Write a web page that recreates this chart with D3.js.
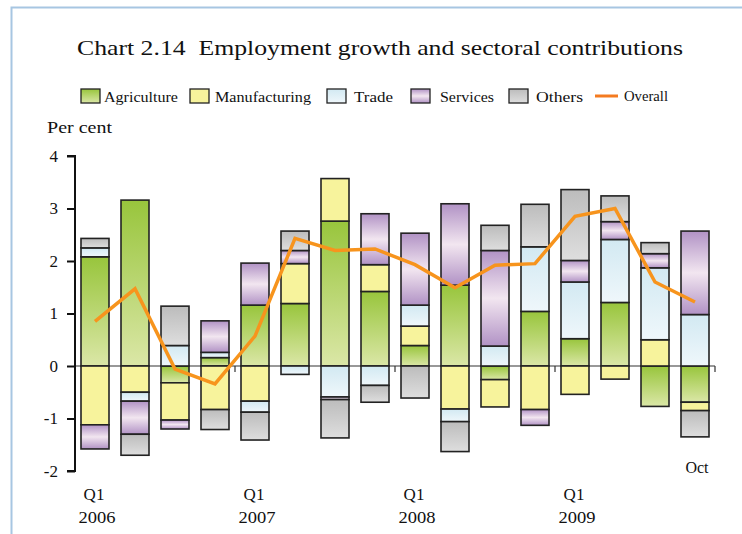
<!DOCTYPE html>
<html>
<head>
<meta charset="utf-8">
<script src="https://cdn.jsdelivr.net/npm/d3@7"></script>
<style>
  body { margin: 0; background: #fff; }
  svg text { font-family: "Liberation Serif", "DejaVu Serif", serif; fill: #111; white-space: pre; }
</style>
</head>
<body>
<div id="chart"></div>
<script>
// data (per cent, contribution to employment growth)
const quarters = ["2006Q1", "2006Q2", "2006Q3", "2006Q4", "2007Q1", "2007Q2", "2007Q3", "2007Q4",
  "2008Q1", "2008Q2", "2008Q3", "2008Q4", "2009Q1", "2009Q2", "2009Q3", "2009Q4"];
const agriculture = [2.08, 3.16, -0.32, 0.16, 1.16, 1.19, 2.76, 1.42, 0.39, 1.54, -0.26, 1.04, 0.52, 1.21, -0.77, -0.69];
const manufacturing = [-1.12, -0.50, -0.71, -0.83, -0.67, 0.76, 0.81, 0.51, 0.37, -0.82, -0.52, -0.83, -0.54, -0.25, 0.50, -0.16];
const trade = [0.17, -0.17, 0.39, 0.10, -0.21, -0.16, -0.59, -0.37, 0.40, -0.24, 0.38, 1.23, 1.08, 1.20, 1.37, 0.98];
const services = [-0.46, -0.63, -0.17, 0.60, 0.80, 0.25, -0.05, 0.97, 1.37, 1.55, 1.82, -0.30, 0.41, 0.34, 0.27, 1.59];
const others = [0.18, -0.40, 0.75, -0.38, -0.53, 0.37, -0.73, -0.32, -0.61, -0.57, 0.48, 0.81, 1.35, 0.49, 0.21, -0.50];
const overall = [0.85, 1.47, -0.06, -0.34, 0.57, 2.43, 2.20, 2.23, 1.93, 1.49, 1.92, 1.95, 2.85, 3.00, 1.60, 1.22];
const yTicks = [-2, -1, 0, 1, 2, 3, 4];
const xLabels = [
  { q: "2006Q1", top: "Q1", bottom: "2006" },
  { q: "2007Q1", top: "Q1", bottom: "2007" },
  { q: "2008Q1", top: "Q1", bottom: "2008" },
  { q: "2009Q1", top: "Q1", bottom: "2009" }
];

const seriesKeys = ["Agriculture", "Manufacturing", "Trade", "Services", "Others"];
const seriesValues = [agriculture, manufacturing, trade, services, others];

const width = 742, height = 534;
const svg = d3.select("#chart").append("svg").attr("width", width).attr("height", height);

// gradients (one per sector, stretched on each segment)
const defs = svg.append("defs");
const grads = {
  Agriculture: [["0%", "#98c53c"], ["100%", "#dbe7a7"]],
  Manufacturing: [["0%", "#f7f39c"], ["100%", "#f7f39c"]],
  Trade: [["0%", "#d2e9f2"], ["100%", "#eff7fb"]],
  Services: [["0%", "#b192c5"], ["50%", "#f2e6f0"], ["100%", "#b192c5"]],
  Others: [["0%", "#bcbcbc"], ["100%", "#dedede"]]
};
seriesKeys.forEach((k) => {
  const g = defs.append("linearGradient").attr("id", "g-" + k)
    .attr("x1", 0).attr("y1", 0).attr("x2", 0).attr("y2", 1);
  grads[k].forEach((s) => g.append("stop").attr("offset", s[0]).attr("stop-color", s[1]));
});

// frame lines of the page
svg.append("path").attr("d", "M11.5,534 L11.5,7.5 L742,7.5")
  .attr("fill", "none").attr("stroke", "#a7c6e2").attr("stroke-width", 2);

// title
svg.append("text").attr("x", 77).attr("y", 55)
  .attr("font-size", 21).attr("textLength", 606).attr("lengthAdjust", "spacingAndGlyphs")
  .text("Chart 2.14  Employment growth and sectoral contributions");

// scales
const x = d3.scaleBand().domain(quarters).range([75, 715]).paddingInner(0.3).paddingOuter(0.15);
const y = d3.scaleLinear().domain([-2, 4]).range([471, 156]);

// stacked data
const rows = quarters.map((q, i) => {
  const r = { q };
  seriesKeys.forEach((k, j) => (r[k] = seriesValues[j][i]));
  return r;
});
const stacked = d3.stack().keys(seriesKeys).offset(d3.stackOffsetDiverging)(rows);

// zero line + year ticks
svg.append("line").attr("x1", 75).attr("x2", 715).attr("y1", y(0)).attr("y2", y(0))
  .attr("stroke", "#333").attr("stroke-width", 1.2);
[4, 8, 12, 16].forEach((i) => {
  const xx = 75 + x.step() * i;
  svg.append("line").attr("x1", xx).attr("x2", xx).attr("y1", y(0)).attr("y2", y(0) + 6)
    .attr("stroke", "#333").attr("stroke-width", 1.2);
});

// bars
svg.append("g").selectAll("g").data(stacked).enter().append("g")
  .attr("fill", (d) => `url(#g-${d.key})`)
  .selectAll("rect").data((d) => d).enter().append("rect")
  .attr("x", (d) => x(d.data.q))
  .attr("width", x.bandwidth())
  .attr("y", (d) => y(Math.max(d[0], d[1])))
  .attr("height", (d) => Math.abs(y(d[0]) - y(d[1])))
  .attr("stroke", "#222").attr("stroke-width", 1.6);

// overall line
const line = d3.line().x((d, i) => x(quarters[i]) + x.bandwidth() / 2).y((d) => y(d));
svg.append("path").datum(overall).attr("d", line)
  .attr("fill", "none").attr("stroke", "#f7941d").attr("stroke-width", 3.5)
  .attr("stroke-linejoin", "miter");

// y axis
const yAxis = d3.axisLeft(y).tickValues(yTicks).tickSize(8).tickFormat((d) => d3.format("d")(d).replace("−", "-"));
const ya = svg.append("g").attr("transform", "translate(75,0)").call(yAxis);
ya.select(".domain").attr("stroke", "#111").attr("stroke-width", 2).attr("d", `M-8,${y(4)}H0V${y(-2)}H-8`);
ya.selectAll(".tick line").attr("stroke", "#111").attr("stroke-width", 2);
ya.selectAll(".tick text").attr("x", -17).attr("font-size", 17)
  .style("font-family", "Liberation Serif, serif").attr("fill", "#111");

svg.append("text").attr("x", 47).attr("y", 133).attr("font-size", 17)
  .attr("textLength", 65).attr("lengthAdjust", "spacingAndGlyphs").text("Per cent");

// x labels
xLabels.forEach((l) => {
  const cx = x(l.q) + x.bandwidth() / 2;
  svg.append("text").attr("x", cx - 1).attr("y", 500).attr("text-anchor", "middle").attr("font-size", 17).text(l.top);
  svg.append("text").attr("x", cx + 2).attr("y", 523).attr("text-anchor", "middle").attr("font-size", 17)
    .attr("textLength", 37).attr("lengthAdjust", "spacingAndGlyphs").text(l.bottom);
});
svg.append("text").attr("x", x("2009Q4") + x.bandwidth() / 2 + 2).attr("y", 473)
  .attr("text-anchor", "middle").attr("font-size", 16).text("Oct");

// legend
const legendItems = [
  { key: "Agriculture", sx: 81, tx: 104, w: 74 },
  { key: "Manufacturing", sx: 190, tx: 215, w: 96 },
  { key: "Trade", sx: 327, tx: 354, w: 39 },
  { key: "Services", sx: 411, tx: 440, w: 54 },
  { key: "Others", sx: 509, tx: 536, w: 47 }
];
const legend = svg.append("g");
legendItems.forEach((l) => {
  legend.append("rect").attr("x", l.sx).attr("y", 89).attr("width", 19).attr("height", 14)
    .attr("fill", `url(#g-${l.key})`).attr("stroke", "#222").attr("stroke-width", 1.3);
  legend.append("text").attr("x", l.tx).attr("y", 102).attr("font-size", 15)
    .attr("textLength", l.w).attr("lengthAdjust", "spacingAndGlyphs").text(l.key);
});
legend.append("line").attr("x1", 595).attr("x2", 618).attr("y1", 96).attr("y2", 96)
  .attr("stroke", "#f47b20").attr("stroke-width", 3);
legend.append("text").attr("x", 624).attr("y", 101).attr("font-size", 15)
  .attr("textLength", 44).attr("lengthAdjust", "spacingAndGlyphs").text("Overall");
</script>
</body>
</html>
